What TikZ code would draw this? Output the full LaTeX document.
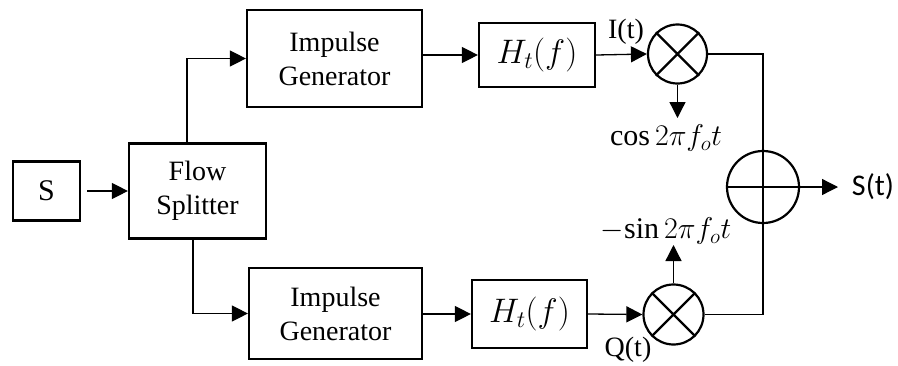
\documentclass[tikz,border=0pt]{standalone}
\usepackage{fix-cm}
\usepackage{fontspec}
\setmainfont{Liberation Serif}
\newfontfamily\labelsans{Carlito}
\usetikzlibrary{arrows.meta}

\begin{document}
\begin{tikzpicture}[x=1pt,y=-1pt,
  block/.style={draw, line width=2.2pt, rectangle, align=center, inner sep=0pt,
    font=\fontsize{28}{34}\selectfont},
  mixer/.style={draw, line width=2.2pt, circle, inner sep=0pt},
  wire/.style={line width=1.3pt},
  flow/.style={wire, -{Triangle[length=16pt,width=16pt]}},
  lbl/.style={inner sep=0pt, font=\fontsize{28}{34}\selectfont}
]
\useasboundingbox (0,0) rectangle (898,365);

% blocks
\node[block, minimum width=67pt, minimum height=59pt, font=\fontsize{30}{34}\selectfont] (src) at (46.5,191) {S};
\node[block, minimum width=137pt, minimum height=95pt] (split) at (197.5,191) {Flow\\Splitter};
\node[block, minimum width=175pt, minimum height=97pt] (gen1) at (334.5,58.5) {Impulse\\Generator};
\node[block, minimum width=173pt, minimum height=91pt] (gen2) at (335.5,313.5) {Impulse\\Generator};
\node[block, minimum width=116pt, minimum height=64pt, font=\fontsize{34}{36}\selectfont] (filt1) at (537,55) {$H_t(f)$};
\node[block, minimum width=115pt, minimum height=68pt, font=\fontsize{34}{36}\selectfont] (filt2) at (529.5,314) {$H_t(f)$};

% mixers and adder
\node[mixer, minimum size=59pt] (mix1) at (677.5,54) {};
\node[mixer, minimum size=60pt] (mix2) at (673.5,314.5) {};
\node[mixer, minimum size=72pt] (sum) at (763,187) {};
\draw[line width=2.2pt] (mix1.north west) -- (mix1.south east) (mix1.north east) -- (mix1.south west);
\draw[line width=2.2pt] (mix2.north west) -- (mix2.south east) (mix2.north east) -- (mix2.south west);
\draw[line width=2.2pt] (sum.west) -- (sum.east) (sum.north) -- (sum.south);

% free ends of the carrier and output arrows
\coordinate (cosend) at (677.5,118);
\coordinate (sinend) at (673.5,245);
\coordinate (outend) at (838,187);

% signal path
\draw[flow] ([xshift=6pt]src.east) -- (split.west);
\draw[flow] ([xshift=-10.5pt]split.north) |- (gen1.west);
\draw[flow] ([xshift=-4.5pt]split.south) |- (gen2.west);
\draw[flow] (gen1.east |- filt1.west) -- (filt1.west);
\draw[flow] (gen2.east |- filt2.west) -- (filt2.west);
\draw[flow] (filt1.east) -- (mix1.west);
\draw[flow] (filt2.east) -- (mix2.west);
\draw[flow] (mix1.south) -- (cosend);
\draw[flow] (mix2.north) -- (sinend);
\draw[wire] (mix1.east) -| (sum.north);
\draw[wire] (mix2.east) -| (sum.south);
\draw[flow] (sum.east) -- (outend);

% labels
\node[lbl] (it) at (626,32) {I(t)};
\node[lbl] (qt) at (628,350) {Q(t)};
\node[lbl, font=\fontsize{30}{34}\selectfont] (cosl) at (666,138) {$\cos 2\pi f_o t$};
\node[lbl, font=\fontsize{30}{34}\selectfont] (sinl) at (666,231) {${-}\mathrm{sin}\,2\pi f_o t$};
\node[lbl, font=\labelsans\fontsize{30}{34}\selectfont] (st) at (873,187) {S(t)};
\end{tikzpicture}
\end{document}
